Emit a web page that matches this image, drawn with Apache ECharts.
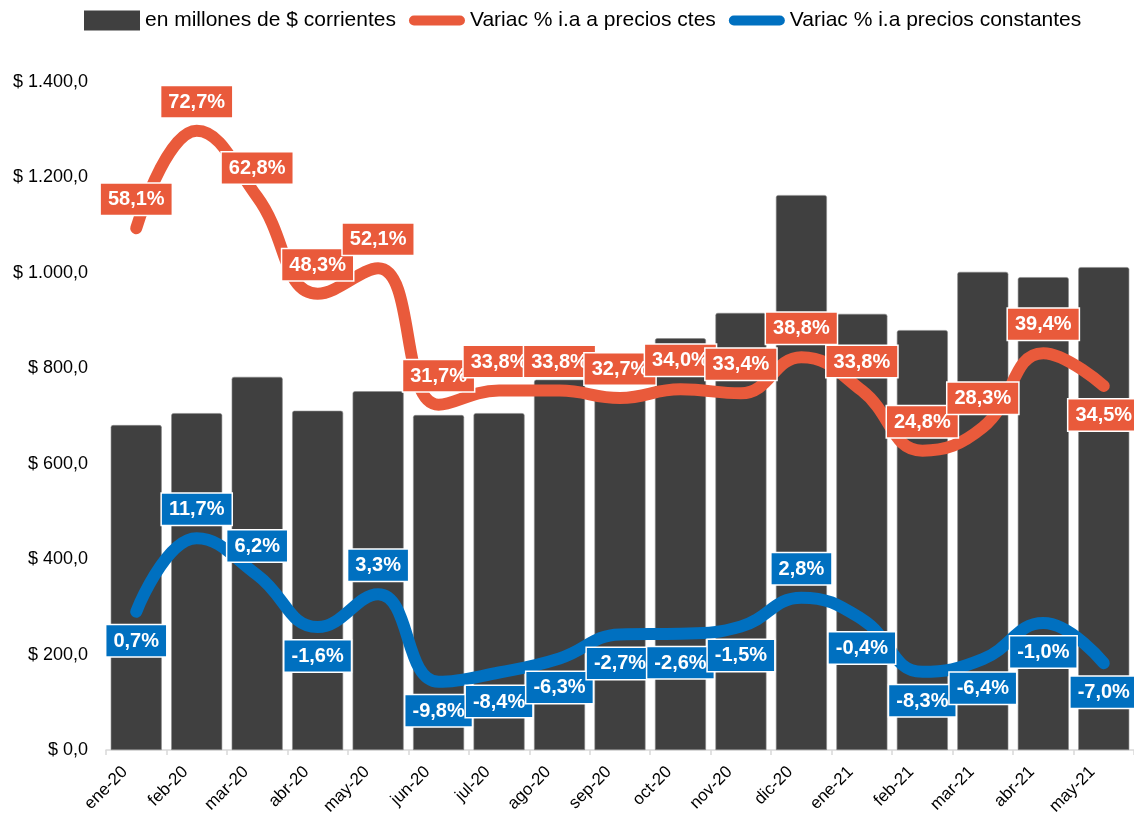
<!DOCTYPE html>
<html>
<head>
<meta charset="utf-8">
<script src="https://cdn.jsdelivr.net/npm/echarts@6/dist/echarts.min.js"></script>
<style>html,body{margin:0;padding:0;background:#fff;}#c{width:1134px;height:828px;}</style>
</head>
<body>
<div id="c"></div>
<script>
var categories = ['ene-20','feb-20','mar-20','abr-20','may-20','jun-20','jul-20','ago-20','sep-20','oct-20','nov-20','dic-20','ene-21','feb-21','mar-21','abr-21','may-21'];
var corrientes = [681, 706, 782, 711, 752, 702, 706, 776, 735, 863, 916, 1163, 914, 880, 1002, 991, 1012];
var variacCtes = [58.1, 72.7, 62.8, 48.3, 52.1, 31.7, 33.8, 33.8, 32.7, 34.0, 33.4, 38.8, 33.8, 24.8, 28.3, 39.4, 34.5];
var variacConst = [0.7, 11.7, 6.2, -1.6, 3.3, -9.8, -8.4, -6.3, -2.7, -2.6, -1.5, 2.8, -0.4, -8.3, -6.4, -1.0, -7.0];
var yTicks = [0, 200, 400, 600, 800, 1000, 1200, 1400];

var redPos = ['top','top','top','top','top','top','top','top','top','top','top','top','top','top','top','top','bottom'];
var bluePos = ['bottom','top','top','bottom','top','bottom','bottom','bottom','bottom','bottom','bottom','top','bottom','bottom','bottom','bottom','bottom'];

function fmtMoney(v){
  var s = Math.round(v).toString().replace(/\B(?=(\d{3})+(?!\d))/g, '.');
  return '$ ' + s + ',0';
}
function fmtPct(v){ return v.toFixed(1).replace('.', ',') + '%'; }

var RED = '#E95A3B', BLUE = '#0070C0', BAR = '#404040';
function lineData(vals, pos){
  return vals.map(function(v, i){
    return { value: v, label: { position: pos[i] } };
  });
}
var labelBase = function(color){
  return {
    show: true, color: '#fff', fontFamily: 'Liberation Sans, Arial, sans-serif',
    fontWeight: 'bold', fontSize: 20, backgroundColor: color,
    borderColor: '#fff', borderWidth: 1.5, padding: [6, 7, 5, 7], distance: 13,
    formatter: function(p){ return fmtPct(p.value); }
  };
};
var linePath = 'path://M5,0 L51,0 A5,5 0 0 1 51,10 L5,10 A5,5 0 0 1 5,0 Z';

var chart = echarts.init(document.getElementById('c'));
chart.setOption({
  animation: false,
  textStyle: { fontFamily: 'Liberation Sans, Arial, sans-serif' },
  legend: {
    top: 5, left: 79, itemWidth: 56, itemHeight: 20, itemGap: 13,
    textStyle: { fontSize: 21, color: '#000', fontFamily: 'Liberation Sans, Arial, sans-serif' },
    data: [
      { name: 'en millones de $ corrientes', icon: 'rect', itemStyle: { borderWidth: 0, color: BAR } },
      { name: 'Variac % i.a a precios ctes', icon: linePath },
      { name: 'Variac % i.a precios constantes', icon: linePath }
    ]
  },
  grid: { left: 106, top: 82, width: 1035, bottom: 78, containLabel: false },
  xAxis: {
    type: 'category', data: categories,
    axisLine: { lineStyle: { color: '#d9d9d9', width: 1.5 } },
    axisTick: { show: true, length: 5, lineStyle: { color: '#d9d9d9', width: 1.5 } },
    axisLabel: { rotate: 45, fontSize: 17, color: '#000', margin: 8, interval: 0, padding: [0, 16, 0, 0] }
  },
  yAxis: [
    {
      type: 'value', min: 0, max: 1400, interval: 200,
      splitLine: { show: false }, axisLine: { show: false }, axisTick: { show: false },
      axisLabel: { fontSize: 18, color: '#000', margin: 18, formatter: fmtMoney }
    },
    { type: 'value', min: -20, max: 80, show: false, splitLine: { show: false } }
  ],
  series: [
    {
      name: 'en millones de $ corrientes', type: 'bar', data: corrientes,
      barWidth: 51, itemStyle: { color: BAR, borderRadius: [2, 2, 0, 0], borderColor: '#8a8a8a', borderWidth: 0.6 },
      z: 1
    },
    {
      name: 'Variac % i.a a precios ctes', type: 'line', yAxisIndex: 1,
      data: lineData(variacCtes, redPos), smooth: 0.45,
      symbol: 'circle', symbolSize: 1, itemStyle: { color: RED },
      lineStyle: { color: RED, width: 12, cap: 'round', join: 'round' },
      label: labelBase(RED), z: 3
    },
    {
      name: 'Variac % i.a precios constantes', type: 'line', yAxisIndex: 1,
      data: lineData(variacConst, bluePos), smooth: 0.45,
      symbol: 'circle', symbolSize: 1, itemStyle: { color: BLUE },
      lineStyle: { color: BLUE, width: 12, cap: 'round', join: 'round' },
      label: labelBase(BLUE), z: 3
    }
  ]
});
</script>
</body>
</html>
